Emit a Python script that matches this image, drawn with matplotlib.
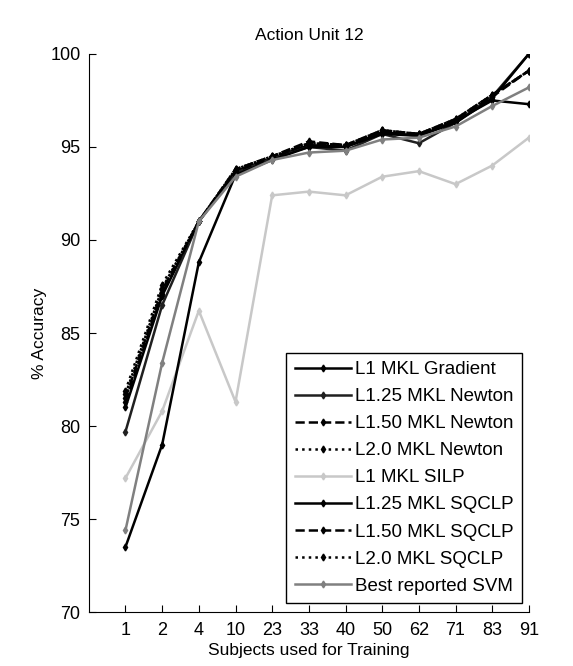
import numpy as np
import matplotlib.pyplot as plt

plt.rcParams['font.family'] = ['Liberation Sans', 'DejaVu Sans']

subjects = ["1", "2", "4", "10", "23", "33", "40", "50", "62", "71", "83", "91"]

l1_gradient = [81.0, 87.0, 91.0, 93.7, 94.4, 95.1, 95.0, 95.8, 95.6, 96.4, 97.5, 97.3]
l125_newton = [79.7, 86.5, 91.0, 93.6, 94.4, 95.0, 94.8, 95.7, 95.2, 96.3, 97.7, 100.0]
l150_newton = [81.5, 87.3, 91.0, 93.8, 94.5, 95.3, 95.1, 95.9, 95.7, 96.5, 97.8, 99.1]
l20_newton = [81.9, 87.6, 91.0, 93.8, 94.5, 95.2, 95.1, 95.9, 95.7, 96.5, 97.8, 99.1]
l1_silp = [77.2, 80.8, 86.2, 81.3, 92.4, 92.6, 92.4, 93.4, 93.7, 93.0, 94.0, 95.5]
l125_sqclp = [73.5, 79.0, 88.8, 93.5, 94.3, 95.0, 95.0, 95.7, 95.6, 96.3, 97.6, 100.0]
l150_sqclp = [81.3, 87.1, 91.0, 93.7, 94.4, 95.2, 95.1, 95.8, 95.7, 96.4, 97.7, 99.1]
l20_sqclp = [81.7, 87.4, 91.0, 93.8, 94.5, 95.2, 95.1, 95.9, 95.7, 96.5, 97.8, 99.1]
best_svm = [74.4, 83.4, 91.0, 93.4, 94.3, 94.7, 94.8, 95.4, 95.5, 96.1, 97.2, 98.2]

series = [
    ("L1 MKL Gradient", l1_gradient, "black", "-"),
    ("L1.25 MKL Newton", l125_newton, "#202020", "-"),
    ("L1.50 MKL Newton", l150_newton, "black", "--"),
    ("L2.0 MKL Newton", l20_newton, "black", ":"),
    ("L1 MKL SILP", l1_silp, "#c8c8c8", "-"),
    ("L1.25 MKL SQCLP", l125_sqclp, "black", "-"),
    ("L1.50 MKL SQCLP", l150_sqclp, "black", "--"),
    ("L2.0 MKL SQCLP", l20_sqclp, "black", ":"),
    ("Best reported SVM", best_svm, "#808080", "-"),
]

fig = plt.figure(figsize=(5.73, 6.66), dpi=100)
ax = fig.add_axes([0.155, 0.081, 0.768, 0.838])

x = np.arange(1, len(subjects) + 1)
for label, vals, color, ls in series:
    ax.plot(x, vals, color=color, linestyle=ls, linewidth=1.8, marker="d",
            markersize=3.5, label=label)

ax.set_xlim(0, 12)
ax.set_ylim(70, 100)
ax.set_xticks(x)
ax.set_xticklabels(subjects)
ax.set_yticks([70, 75, 80, 85, 90, 95, 100])
ax.spines["top"].set_visible(False)
ax.spines["right"].set_visible(False)
ax.tick_params(direction="in", length=5, labelsize=13, pad=7)
ax.tick_params(axis="y", pad=6)
ax.set_title("Action Unit 12", fontsize=12.5, pad=10)
ax.set_xlabel("Subjects used for Training", fontsize=12.5, labelpad=3)
ax.set_ylabel("% Accuracy", fontsize=12.5, labelpad=2)

leg = ax.legend(loc="lower right", bbox_to_anchor=(0.984, 0.016), fontsize=13.5,
                fancybox=False, framealpha=1, edgecolor="black",
                handlelength=3.0, handletextpad=0.2, labelspacing=0.53,
                borderpad=0.45, borderaxespad=0)
leg.get_frame().set_linewidth(1.0)

fig.savefig("out.png", dpi=100)
